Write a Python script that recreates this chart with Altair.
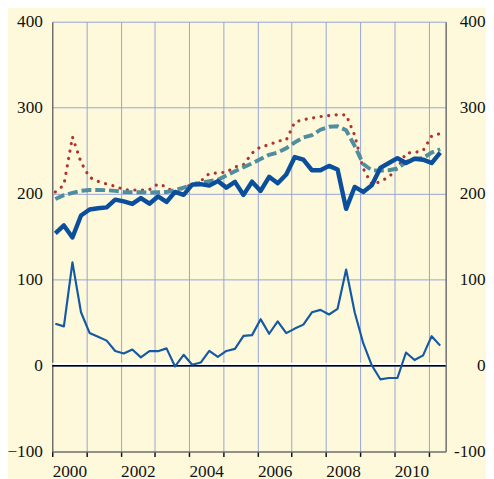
import altair as alt
import pandas as pd

# Quarterly observations, Q1 2000 .. Q2 2011
quarters = [f"{2000 + i // 4}Q{i % 4 + 1}" for i in range(46)]

thick_blue = [153.7, 163, 149, 174.6, 181.5, 183, 184, 193, 191, 188,
              194.8, 188.3, 196.7, 190.3, 202, 198.6, 210.5, 211, 209.3, 214.6,
              207, 213.7, 198.5, 213.9, 203.2, 219.6, 212, 222.3, 242.5, 239.5,
              227.2, 227.2, 232.3, 228, 182.3, 207.8, 202, 209.7, 229.9, 235.6,
              241.3, 235.6, 240.6, 239.5, 235.6, 247.8]

red_dotted = [202, 210, 266, 236.5, 219, 214.3, 211.2, 208.6, 204.7, 204.3,
              204, 204.7, 211.2, 208, 200, 207, 210.6, 214.6, 223.4, 224.1,
              225, 231, 233.7, 247, 254.7, 256.6, 261.2, 262.3, 283.3, 286,
              287.9, 289.6, 290.8, 291.7, 291.7, 268, 229.2, 210.8, 213.9, 219.6,
              229.5, 247.2, 247.8, 250.1, 267, 269.9]

teal_dashed = [193.8, 198.2, 200.9, 203.2, 204.3, 204.3, 204, 203.2, 202, 201.7,
               201.7, 201.3, 201.7, 202, 204, 207, 210.4, 212.7, 214.6, 216.1,
               221.1, 226.1, 230.7, 235.2, 240.2, 245.2, 247.8, 252.8, 259.6, 265.3,
               268, 274.4, 277.8, 278.4, 273.8, 255.5, 234.4, 227.2, 226.8, 227.2,
               229.2, 236.7, 240.6, 241.3, 247.8, 251.6]

thin_blue = [48.7, 45.6, 120, 62, 38, 33.5, 29, 17, 14, 18.6,
             9.5, 16.7, 16.7, 20, -1, 12.5, 1, 3.5, 17, 10,
             17, 19.4, 34.5, 35.4, 54, 37, 51.4, 37.7, 43, 47.6,
             62, 64.8, 59.4, 66, 111.7, 62, 26, 0.3, -16, -14.5,
             -14.5, 15.2, 6.4, 11.8, 34.2, 23.2]

year_ticks = list(range(2000, 2012))
y_ticks = [-100, 0, 100, 200, 300, 400]

def q_to_t(q):
    y, n = q.split("Q")
    return int(y) + (int(n) - 1) * 0.25 + 0.09

df = pd.DataFrame({
    "t": [q_to_t(q) for q in quarters],
    "thick": thick_blue,
    "red": red_dotted,
    "teal": teal_dashed,
    "thin": thin_blue,
})

BG = "#FFF9DC"
GRID = "#93A4D8"
FONT = "Times New Roman"

xscale = alt.Scale(domain=[2000, 2011.5], nice=False, zero=False)
yscale = alt.Scale(domain=[-100, 400], nice=False, zero=False)

x_axis = alt.Axis(
    values=year_ticks, title=None, grid=True, gridColor=GRID, gridWidth=1,
    gridOpacity={"condition": {"test": "datum.value <= 2000", "value": 0}, "value": 1},
    domain=True, domainColor="#6E6E6E", domainWidth=1.5,
    ticks=True, tickColor="#111111", tickWidth=1.5, tickSize=5,
    labelExpr="datum.value % 2 == 0 && datum.value <= 2010 ? toString(datum.value) : ''",
    labelOffset=17.4, labelPadding=6, labelFlush=False, labelOverlap=False,
    labelFont=FONT, labelFontSize=17.5, labelColor="#111111",
)
x_enc = alt.X("t:Q", scale=xscale, axis=x_axis)

left_axis = alt.Axis(
    values=y_ticks, title=None, orient="left", grid=True, gridColor=GRID, gridWidth=1,
    gridOpacity={"condition": {"test": "datum.value <= -100", "value": 0}, "value": 1},
    domain=True, domainColor="#6E6E6E", domainWidth=1.5, ticks=False,
    labelPadding=10, labelFont=FONT, labelFontSize=17.5, labelColor="#111111",
    labelFlush=False, labelOverlap=False,
)
right_axis = alt.Axis(
    values=y_ticks, title=None, orient="right", grid=False,
    domain=True, domainColor="#6E6E6E", domainWidth=1.5, ticks=False,
    labelExpr="datum.value == 0 ? '0\u2007\u2007' : toString(datum.value)",
    labelPadding=40, labelAlign="right", labelFont=FONT, labelFontSize=17.5,
    labelColor="#111111", labelFlush=False, labelOverlap=False,
)

base = alt.Chart(df)

red_line = base.mark_line(
    color="#B0342C", strokeWidth=3.2, strokeCap="round", strokeDash=[0.1, 7.6]
).encode(x=x_enc, y=alt.Y("red:Q", scale=yscale, axis=left_axis))

teal_line = base.mark_line(
    color="#4F8E9E", strokeWidth=4, strokeDash=[10, 4]
).encode(x=x_enc, y=alt.Y("teal:Q", scale=yscale, axis=right_axis))

thick_line = base.mark_line(
    color="#0B4F9C", strokeWidth=4.5, strokeJoin="round"
).encode(x=x_enc, y=alt.Y("thick:Q", scale=yscale, axis=None))

thin_line = base.mark_line(
    color="#1459A3", strokeWidth=2.2, strokeJoin="round"
).encode(x=x_enc, y=alt.Y("thin:Q", scale=yscale, axis=None))

zero_white = alt.Chart(pd.DataFrame({"v": [2.2]})).mark_rule(
    color="white", strokeWidth=2
).encode(y=alt.Y("v:Q", scale=yscale, axis=None))

zero_black = alt.Chart(pd.DataFrame({"v": [-0.3]})).mark_rule(
    color="#000000", strokeWidth=1.6
).encode(y=alt.Y("v:Q", scale=yscale, axis=None))

chart = alt.layer(
    red_line, teal_line, zero_white, zero_black, thin_line, thick_line
).resolve_scale(y="independent").properties(
    width=400, height=437,
    autosize=alt.AutoSizeParams(type="none"),
    padding={"left": 45, "top": 10, "right": 41, "bottom": 24},
    background=BG,
).configure_view(stroke=None)

chart.save("out.html", embed_options={"renderer": "svg", "actions": False})
